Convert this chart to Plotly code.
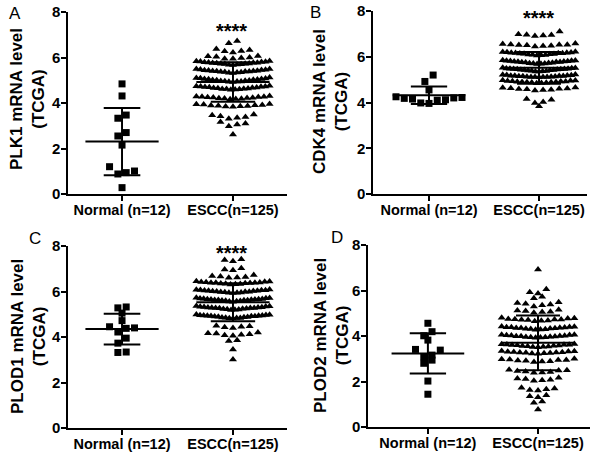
import numpy as np
import plotly.graph_objects as go

W, H = 600, 457

groups = ["Normal (n=12)", "ESCC(n=125)"]
genes = ["PLK1", "CDK4", "PLOD1", "PLOD2"]
letters = ["A", "B", "C", "D"]
stars = ["****", "****", "****", ""]

# values (mRNA level, TCGA)
plk1_normal = [4.84, 4.31, 3.47, 3.33, 2.70, 2.55, 2.15, 1.20, 1.01, 0.94, 0.88, 0.28]
plk1_escc = [
    6.72, 6.63,
    6.37, 6.33, 6.29, 6.27, 6.22,
    6.07, 6.05, 6.03, 6.00, 5.98, 5.95, 5.94,
    5.85, 5.84, 5.82, 5.81, 5.80, 5.79, 5.78, 5.77, 5.77, 5.76, 5.75, 5.74, 5.73, 5.72, 5.71, 5.70, 5.69, 5.68, 5.67,
    5.50, 5.49, 5.47, 5.46, 5.45, 5.44, 5.43, 5.42, 5.41, 5.41, 5.40, 5.39, 5.38, 5.37, 5.36, 5.35, 5.34, 5.33, 5.32,
    5.12, 5.10, 5.09, 5.08, 5.06, 5.05, 5.04, 5.03, 5.02, 5.01, 5.00, 4.99, 4.98, 4.97, 4.96, 4.95, 4.94, 4.93, 4.92,
    4.76, 4.74, 4.73, 4.72, 4.71, 4.70, 4.69, 4.68, 4.67, 4.66, 4.65, 4.64, 4.63, 4.62, 4.61, 4.60, 4.59, 4.58,
    4.31, 4.29, 4.28, 4.27, 4.26, 4.25, 4.24, 4.23, 4.22, 4.21, 4.20, 4.19, 4.18, 4.16,
    3.96, 3.94, 3.93, 3.91, 3.90, 3.89, 3.88, 3.87, 3.86, 3.85, 3.83,
    3.50, 3.46, 3.42, 3.38, 3.35, 3.31,
    3.16, 3.10, 3.05, 2.98,
    2.62,
]

cdk4_normal = [5.20, 4.92, 4.55, 4.25, 4.22, 4.20, 4.18, 4.15, 4.12, 4.10, 3.98, 3.96]
cdk4_escc = [
    7.10, 6.98, 6.96, 6.95, 6.93, 6.91,
    6.58, 6.56, 6.54, 6.53, 6.52, 6.51, 6.50, 6.48, 6.47, 6.45,
    6.22, 6.21, 6.20, 6.19, 6.18, 6.17, 6.16, 6.15, 6.15, 6.14, 6.13, 6.12, 6.11, 6.10, 6.09, 6.08, 6.07, 6.06,
    5.85, 5.84, 5.83, 5.82, 5.81, 5.80, 5.79, 5.79, 5.78, 5.77, 5.77, 5.76, 5.75, 5.74, 5.73, 5.72, 5.71, 5.70, 5.69, 5.68,
    5.52, 5.51, 5.50, 5.49, 5.48, 5.47, 5.46, 5.46, 5.45, 5.45, 5.44, 5.43, 5.42, 5.42, 5.41, 5.40, 5.39, 5.38, 5.37, 5.36, 5.35,
    5.22, 5.21, 5.20, 5.19, 5.18, 5.17, 5.17, 5.16, 5.16, 5.15, 5.15, 5.14, 5.13, 5.13, 5.12, 5.12, 5.11, 5.11, 5.10,
    4.97, 4.96, 4.95, 4.94, 4.93, 4.92, 4.92, 4.91, 4.90, 4.90, 4.89, 4.88, 4.87, 4.86, 4.85, 4.84,
    4.66, 4.64, 4.62, 4.61, 4.60, 4.59, 4.58, 4.56, 4.55, 4.53,
    4.15, 4.12, 4.02, 3.98,
    3.84,
]

plod1_normal = [5.32, 5.28, 5.05, 4.72, 4.45, 4.40, 4.38, 4.22, 3.95, 3.73, 3.34, 3.32]
plod1_escc = [
    7.42, 7.38, 7.33,
    7.02, 6.97, 6.93,
    6.72, 6.68, 6.66, 6.64, 6.62, 6.60,
    6.45, 6.44, 6.43, 6.42, 6.41, 6.40, 6.39, 6.39, 6.38, 6.37, 6.36, 6.35, 6.34, 6.33, 6.32, 6.31,
    6.09, 6.08, 6.07, 6.06, 6.05, 6.04, 6.03, 6.03, 6.02, 6.01, 6.00, 5.99, 5.99, 5.98, 5.97, 5.96, 5.95, 5.94, 5.93,
    5.72, 5.71, 5.70, 5.69, 5.68, 5.67, 5.66, 5.66, 5.65, 5.65, 5.64, 5.63, 5.63, 5.62, 5.61, 5.60, 5.59, 5.58, 5.57, 5.56, 5.55,
    5.36, 5.35, 5.34, 5.33, 5.32, 5.31, 5.30, 5.30, 5.29, 5.28, 5.28, 5.27, 5.26, 5.25, 5.24, 5.23, 5.22, 5.21, 5.20, 5.19,
    4.99, 4.98, 4.97, 4.96, 4.95, 4.94, 4.93, 4.93, 4.92, 4.91, 4.91, 4.90, 4.89, 4.88, 4.87, 4.86, 4.85, 4.84, 4.83, 4.82, 4.81,
    4.50, 4.47, 4.45, 4.43, 4.40,
    4.20, 4.17, 4.15, 4.12, 4.10, 4.08, 4.05,
    3.86, 3.82,
    3.45,
    3.01,
]

plod2_normal = [4.56, 4.19, 4.01, 3.82, 3.41, 3.38, 3.16, 3.09, 2.94, 2.80, 2.02, 1.44]
plod2_escc = [
    6.92,
    6.06, 5.92, 5.87,
    5.72, 5.66,
    5.48, 5.45, 5.42, 5.38, 5.35, 5.30,
    5.15, 5.12, 5.10, 5.07, 5.05, 5.02,
    4.80, 4.78, 4.77, 4.75, 4.74, 4.73, 4.72, 4.71, 4.70, 4.68, 4.67, 4.65,
    4.42, 4.41, 4.40, 4.39, 4.38, 4.37, 4.36, 4.35, 4.35, 4.34, 4.33, 4.32, 4.31, 4.30, 4.29, 4.28,
    4.06, 4.05, 4.04, 4.03, 4.02, 4.01, 4.00, 3.99, 3.99, 3.98, 3.97, 3.96, 3.95, 3.94, 3.93, 3.92,
    3.65, 3.64, 3.63, 3.62, 3.61, 3.60, 3.59, 3.58, 3.57, 3.56, 3.55, 3.54, 3.53, 3.52, 3.51,
    3.34, 3.33, 3.32, 3.31, 3.30, 3.29, 3.28, 3.27, 3.26, 3.25, 3.24, 3.23, 3.22,
    3.00, 2.98, 2.97, 2.95, 2.94, 2.92, 2.91, 2.89, 2.88, 2.86,
    2.52, 2.50, 2.48, 2.46, 2.44, 2.42, 2.40, 2.38,
    2.16, 2.13, 2.11, 2.08, 2.06, 2.03,
    1.72, 1.69, 1.66, 1.63, 1.60,
    1.40, 1.35, 1.31,
    1.12, 1.07,
    0.77,
]

normals = [plk1_normal, cdk4_normal, plod1_normal, plod2_normal]
esccs = [plk1_escc, cdk4_escc, plod1_escc, plod2_escc]

# panel boxes in pixels: (left, right, top, bottom)
boxes = [(68, 287, 12, 194), (373, 587, 11, 194), (68, 287, 246, 428), (368, 590, 245, 427)]
xranges = [[-0.487, 1.487], [-0.509, 1.436], [-0.487, 1.487], [-0.544, 1.472]]
norm_bin = [0.35, 0.3, 0.25, 0.35]
title_pos = [(27, 99), (331, 102), (28, 337), (331, 336)]
letter_pos = [(15, 14), (315, 12), (35, 238), (337, 237)]
star_pos = [(231, 31), (538, 18), (231, 253), None]


def swarm(vals, w, step, half):
    # Prism-like rows: group close values, spread each row sideways
    v = np.asarray(vals, float)
    order = np.argsort(-v, kind="stable")
    rows, cur, top = [], [], None
    for i in order:
        if top is None or v[i] <= top - w:
            if cur:
                rows.append(cur)
            cur, top = [i], v[i]
        else:
            cur.append(i)
    rows.append(cur)
    x = np.zeros(len(v))
    for r in rows:
        n = len(r)
        s = min(step, 2 * half / (n - 1)) if n > 1 else 0
        slots = [0.0] if n % 2 else []
        for j in range(n // 2):
            a = (j + (0.5 if n % 2 == 0 else 1)) * s
            slots += [-a, a] if j % 2 == 0 else [a, -a]
        for i, o in zip(sorted(r, key=lambda k: v[k]), slots):
            x[i] = o
    return x


def err_trace(vals, c, cap, xa, ya):
    m = np.mean(vals)
    s = np.std(vals, ddof=1)
    xs = [c - 0.33, c + 0.33, None, c, c, None, c - cap, c + cap, None, c - cap, c + cap]
    ys = [m, m, None, m - s, m + s, None, m + s, m + s, None, m - s, m - s]
    return go.Scatter(x=xs, y=ys, mode="lines", line=dict(color="black", width=2),
                      xaxis=xa, yaxis=ya, showlegend=False, hoverinfo="skip", cliponaxis=False)


fig = go.Figure()
font = "Arial, Liberation Sans, sans-serif"
annotations = []

for k in range(4):
    xa = "x" if k == 0 else f"x{k + 1}"
    ya = "y" if k == 0 else f"y{k + 1}"
    nx = swarm(normals[k], norm_bin[k], 0.075, 0.35)
    ex = swarm(esccs[k], 0.21, 0.075, 0.33)
    fig.add_trace(go.Scatter(x=0 + nx, y=normals[k], mode="markers", xaxis=xa, yaxis=ya,
                             marker=dict(symbol="square", size=7, color="black"),
                             showlegend=False, cliponaxis=False))
    fig.add_trace(go.Scatter(x=1 + ex, y=esccs[k], mode="markers", xaxis=xa, yaxis=ya,
                             marker=dict(symbol="triangle-up", size=7, color="black"),
                             showlegend=False, cliponaxis=False))
    fig.add_trace(err_trace(normals[k], 0, 0.165, xa, ya))
    fig.add_trace(err_trace(esccs[k], 1, 0.2, xa, ya))

    l, r, t, b = boxes[k]
    sfx = "" if k == 0 else str(k + 1)
    fig.layout["xaxis" + sfx] = dict(
        domain=[l / W, r / W], range=xranges[k], anchor=ya, automargin=False,
        showline=True, linecolor="black", linewidth=1.5, showgrid=False, zeroline=False,
        ticks="outside", ticklen=5, tickwidth=1.5, tickcolor="black", ticklabelstandoff=-3,
        tickvals=[0, 1], ticktext=[f"<b>{g}</b>" for g in groups],
        tickfont=dict(family=font, size=14.5, color="black"))
    fig.layout["yaxis" + sfx] = dict(
        domain=[1 - b / H, 1 - t / H], range=[0, 8], anchor=xa, automargin=False,
        showline=True, linecolor="black", linewidth=1.5, showgrid=False, zeroline=False,
        ticks="outside", ticklen=5, tickwidth=1.5, tickcolor="black", ticklabelstandoff=-2,
        tickvals=[0, 2, 4, 6, 8], ticktext=[f"<b>{v}</b>" for v in [0, 2, 4, 6, 8]],
        tickfont=dict(family=font, size=15, color="black"))

    tx, ty = title_pos[k]
    annotations.append(dict(
        text=f"<b>{genes[k]} mRNA level</b><br><b>(TCGA)</b>", textangle=-90,
        x=tx / W, y=1 - ty / H, xref="paper", yref="paper", xanchor="center", yanchor="middle",
        showarrow=False, font=dict(family=font, size=17, color="black")))
    lx, ly = letter_pos[k]
    annotations.append(dict(
        text=letters[k], x=lx / W, y=1 - ly / H, xref="paper", yref="paper",
        xanchor="center", yanchor="middle", showarrow=False,
        font=dict(family=font, size=17, color="black")))
    if star_pos[k]:
        sx, sy = star_pos[k]
        annotations.append(dict(
            text=f"<b>{stars[k]}</b>", x=sx / W, y=1 - sy / H, xref="paper", yref="paper",
            xanchor="center", yanchor="middle", showarrow=False,
            font=dict(family=font, size=20, color="black")))

fig.update_layout(
    width=W, height=H, margin=dict(l=0, r=0, t=0, b=0),
    paper_bgcolor="white", plot_bgcolor="white",
    annotations=annotations, showlegend=False)

# the page body has a default margin; drop it so the figure sits at the window corner
fig.write_html("out.html", config={"displayModeBar": False},
               post_script="document.body.style.margin='0';")
